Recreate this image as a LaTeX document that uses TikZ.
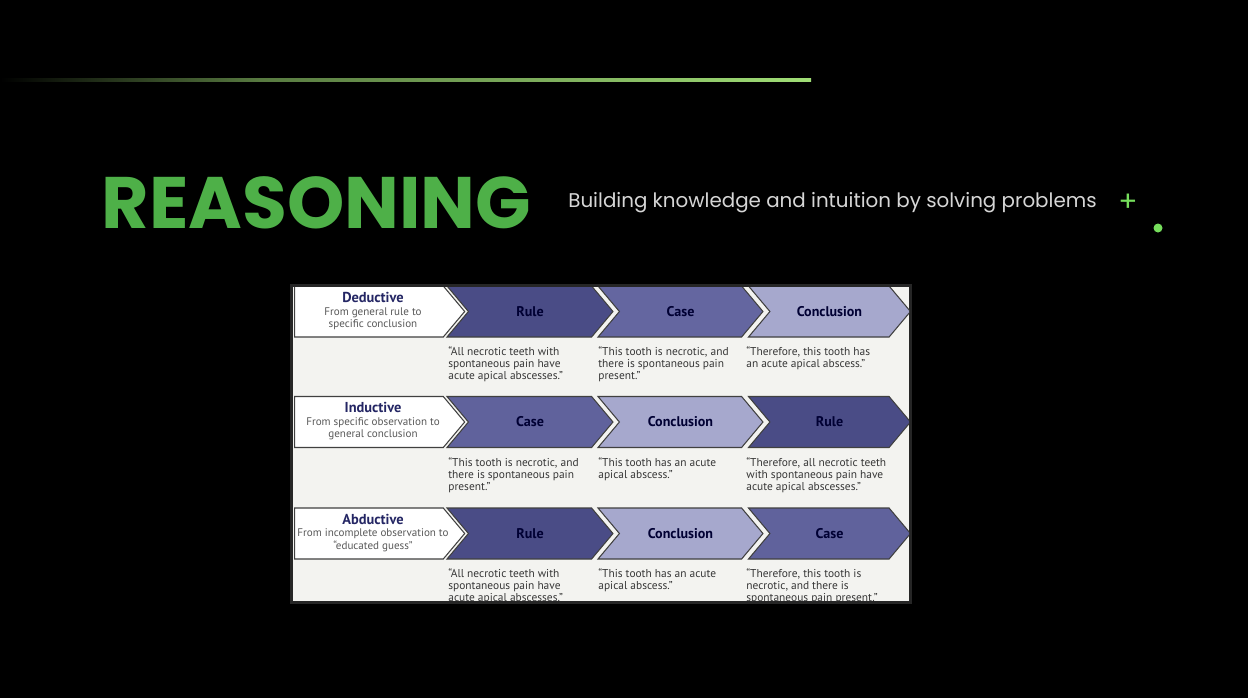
\documentclass[tikz,border=0pt]{standalone}
\usepackage{fontspec}
\setmainfont{PT Sans}
\newfontfamily\titlefont{Poppins}
\usetikzlibrary{shapes.symbols}

\definecolor{slidegreen}{RGB}{78,176,72}
\definecolor{linegreen}{RGB}{160,222,118}
\definecolor{accentgreen}{RGB}{118,222,92}
\definecolor{subgray}{RGB}{214,214,214}
\definecolor{chevdark}{RGB}{74,76,134}
\definecolor{chevmid}{RGB}{100,102,160}
\definecolor{chevlight}{RGB}{166,168,205}
\definecolor{headnavy}{RGB}{36,38,100}
\definecolor{quotegray}{RGB}{55,55,55}
\definecolor{panelbg}{RGB}{243,243,240}

\begin{document}
\begin{tikzpicture}[x=0.02cm, y=-0.02cm,
    chev/.style={signal, signal from=west, signal to=east, signal pointer angle=100,
        draw=black!75, line width=0.6pt, minimum height=1.02cm, inner sep=0pt,
        font=\fontsize{8}{9}\selectfont\bfseries, text=black!80!blue},
    headbox/.style={signal, signal to=east, signal pointer angle=100,
        draw=black!75, line width=0.6pt, fill=white, minimum height=1.02cm,
        minimum width=3.4cm, inner sep=0pt},
    headtext/.style={align=center, inner sep=0pt,
        font=\fontsize{6.3}{7.1}\selectfont, text=black!65},
    quote/.style={anchor=north west, align=left, inner sep=0pt,
        font=\fontsize{6.5}{6.85}\selectfont, text=quotegray}]

    \fill[black] (0,0) rectangle (1248,698);
    \useasboundingbox (0,0) rectangle (1248,698);

    % top rule and title
    \shade[left color=black, right color=linegreen!55!black] (0,78.5) rectangle (260,81.5);
    \shade[left color=linegreen!55!black, right color=linegreen] (260,78.5) rectangle (811,81.5);
    \node[font=\titlefont\bfseries\fontsize{41.5}{41.5}\selectfont, text=slidegreen] (title) at (316.5,203) {REASONING};
    \node[font=\titlefont\fontsize{11.3}{11.3}\selectfont, text=subgray] (subtitle) at (832.5,203) {Building knowledge and intuition by solving problems};
    \node[font=\titlefont\fontsize{16}{16}\selectfont, text=accentgreen] (plus) at (1128,203) {+};
    \node[circle, fill=accentgreen, minimum size=0.18cm, inner sep=0pt] (dot) at (1158,228) {};

    % the picture of the three kinds of reasoning
    \fill[black!85] (290,284) rectangle (912,604);
    \begin{scope}
        \clip (293,287) rectangle (909,601);
        \fill[panelbg] (293,287) rectangle (909,601);

        % deductive
        \node[headbox] (ded) at (369,311.5) {};
        \node[headtext] (ded-text) at (373,311) {{\fontsize{8.2}{8.6}\selectfont\bfseries\color{headnavy}Deductive}\\From general rule to\\specific conclusion};
        \node[chev, fill=chevdark, minimum width=3.32cm] (ded-rule) at (530,311.5) {Rule};
        \node[chev, fill=chevmid, minimum width=3.30cm] (ded-case) at (680.5,311.5) {Case};
        \node[chev, fill=chevlight, minimum width=3.24cm] (ded-concl) at (829.5,311.5) {Conclusion};
        \node[quote] (ded-rule-q) at (448,346) {``All necrotic teeth with\\spontaneous pain have\\acute apical abscesses.''};
        \node[quote] (ded-case-q) at (598,346) {``This tooth is necrotic, and\\there is spontaneous pain\\present.''};
        \node[quote] (ded-concl-q) at (746,346) {``Therefore, this tooth has\\an acute apical abscess.''};

        % inductive
        \node[headbox] (ind) at (369,422) {};
        \node[headtext] (ind-text) at (373,421.5) {{\fontsize{8.2}{8.6}\selectfont\bfseries\color{headnavy}Inductive}\\From specific observation to\\general conclusion};
        \node[chev, fill=chevmid!85!chevdark, minimum width=3.32cm] (ind-case) at (530,422) {Case};
        \node[chev, fill=chevlight, minimum width=3.30cm] (ind-concl) at (680.5,422) {Conclusion};
        \node[chev, fill=chevdark, minimum width=3.24cm] (ind-rule) at (829.5,422) {Rule};
        \node[quote] (ind-case-q) at (448,457) {``This tooth is necrotic, and\\there is spontaneous pain\\present.''};
        \node[quote] (ind-concl-q) at (598,457) {``This tooth has an acute\\apical abscess.''};
        \node[quote] (ind-rule-q) at (746,457) {``Therefore, all necrotic teeth\\with spontaneous pain have\\acute apical abscesses.''};

        % abductive
        \node[headbox] (abd) at (369,533.5) {};
        \node[headtext] (abd-text) at (373,533) {{\fontsize{8.2}{8.6}\selectfont\bfseries\color{headnavy}Abductive}\\From incomplete observation to\\``educated guess''};
        \node[chev, fill=chevdark, minimum width=3.32cm] (abd-rule) at (530,533.5) {Rule};
        \node[chev, fill=chevlight, minimum width=3.30cm] (abd-concl) at (680.5,533.5) {Conclusion};
        \node[chev, fill=chevmid!85!chevdark, minimum width=3.24cm] (abd-case) at (829.5,533.5) {Case};
        \node[quote] (abd-rule-q) at (448,568) {``All necrotic teeth with\\spontaneous pain have\\acute apical abscesses.''};
        \node[quote] (abd-concl-q) at (598,568) {``This tooth has an acute\\apical abscess.''};
        \node[quote] (abd-case-q) at (746,568) {``Therefore, this tooth is\\necrotic, and there is\\spontaneous pain present.''};
    \end{scope}
\end{tikzpicture}
\end{document}
